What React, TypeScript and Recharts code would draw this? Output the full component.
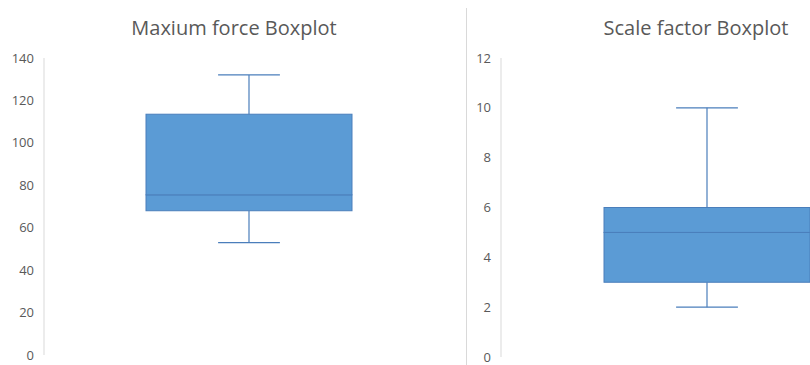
import { ComposedChart, Bar, XAxis, YAxis } from "recharts";

// values
const categories = ["Maxium force", "Scale factor"];
const titles = ["Maxium force Boxplot", "Scale factor Boxplot"];
const minValues = [53, 2];
const q1Values = [68, 3];
const medianValues = [75.5, 5];
const q3Values = [113.5, 6];
const maxValues = [132, 10];
const forceTicks = [0, 20, 40, 60, 80, 100, 120, 140];
const scaleTicks = [0, 2, 4, 6, 8, 10, 12];

const BOX_FILL = "#5B9BD5";
const BOX_STROKE = "#4A7EBB";
const TEXT = "#595959";
const FONT = "'Open Sans', sans-serif";

// stacked segments: invisible base, lower whisker, two box halves, upper whisker
function buildRow(i: number) {
  return [
    {
      name: categories[i],
      base: minValues[i],
      lowWhisker: q1Values[i] - minValues[i],
      lowBox: medianValues[i] - q1Values[i],
      highBox: q3Values[i] - medianValues[i],
      highWhisker: maxValues[i] - q3Values[i],
    },
  ];
}

const WhiskerShape = (capAtTop: boolean) => (props: any) => {
  const { x, y, width, height } = props;
  const cx = x + width / 2;
  const capW = width * 0.3;
  const capY = capAtTop ? y : y + height;
  return (
    <g>
      <line x1={cx} x2={cx} y1={y} y2={y + height} stroke={BOX_STROKE} strokeWidth={1.2} />
      <line x1={cx - capW / 2} x2={cx + capW / 2} y1={capY} y2={capY} stroke={BOX_STROKE} strokeWidth={1.2} />
    </g>
  );
};

const BoxShape = (props: any) => {
  const { x, y, width, height } = props;
  return <rect x={x} y={y} width={width} height={height} fill={BOX_FILL} stroke={BOX_STROKE} strokeWidth={1} />;
};

function BoxChart({ index, width, yWidth, bottom, ticks }: any) {
  const max = ticks[ticks.length - 1];
  return (
    <ComposedChart
      width={width}
      height={365}
      data={buildRow(index)}
      margin={{ top: 58, right: 0, left: 0, bottom: bottom }}
    >
      <XAxis dataKey="name" type="category" hide />
      <YAxis
        width={yWidth}
        domain={[0, max]}
        ticks={ticks}
        interval={0}
        axisLine={{ stroke: "#D9D9D9" }}
        tickLine={false}
        tickSize={0}
        tickMargin={10}
        tick={{ fill: TEXT, fontSize: 13, fontFamily: FONT }}
      />
      <Bar dataKey="base" stackId="b" fill="none" barSize={206} isAnimationActive={false} />
      <Bar dataKey="lowWhisker" stackId="b" shape={WhiskerShape(false)} isAnimationActive={false} />
      <Bar dataKey="lowBox" stackId="b" shape={BoxShape} isAnimationActive={false} />
      <Bar dataKey="highBox" stackId="b" shape={BoxShape} isAnimationActive={false} />
      <Bar dataKey="highWhisker" stackId="b" shape={WhiskerShape(true)} isAnimationActive={false} />
    </ComposedChart>
  );
}

const titleStyle: any = {
  position: "absolute",
  top: 14,
  fontFamily: FONT,
  fontSize: 20,
  color: TEXT,
  whiteSpace: "nowrap",
  transform: "translateX(-50%)",
};

export default function App() {
  return (
    <div
      style={{
        position: "fixed",
        left: 0,
        top: 0,
        width: 810,
        height: 365,
        overflow: "hidden",
        background: "#fff",
      }}
    >
      <div style={{ position: "absolute", left: 0, top: 0 }}>
        <BoxChart index={0} width={454} yWidth={44} bottom={10} ticks={forceTicks} />
      </div>
      <div style={{ ...titleStyle, left: 234 }}>{titles[0]}</div>

      {/* divider between the two charts */}
      <div style={{ position: "absolute", left: 466, top: 8, width: 1, height: 357, background: "#D9D9D9" }} />

      <div style={{ position: "absolute", left: 466, top: 0 }}>
        <BoxChart index={1} width={447} yWidth={35} bottom={8} ticks={scaleTicks} />
      </div>
      <div style={{ ...titleStyle, left: 696 }}>{titles[1]}</div>
    </div>
  );
}
